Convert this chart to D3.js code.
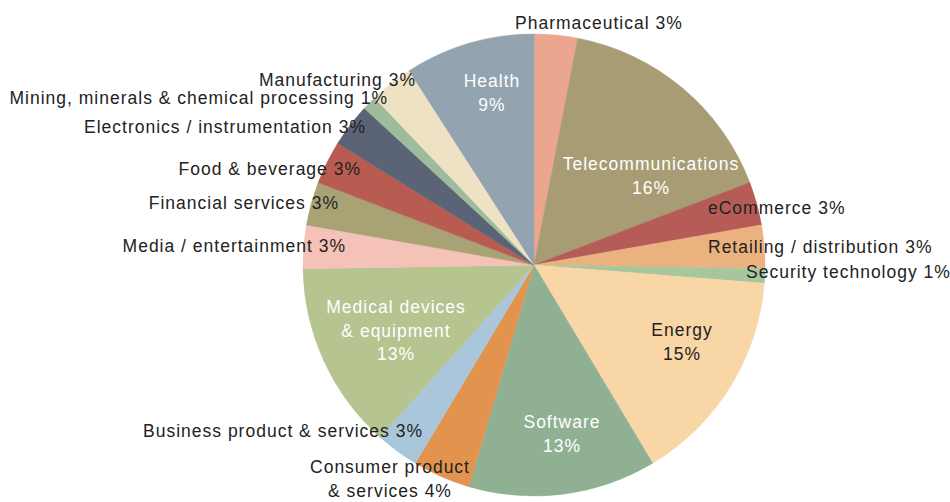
<!DOCTYPE html>
<html>
<head>
<meta charset="utf-8">
<script src="https://cdn.jsdelivr.net/npm/d3@7"></script>
<style>
  html, body { margin: 0; padding: 0; background: #fff; }
  svg { display: block; }
  text { font-family: "Liberation Sans", Arial, sans-serif; font-size: 17.5px; letter-spacing: 1px; }
</style>
</head>
<body>
<svg id="chart" width="950" height="502"></svg>
<script>
// Sector shares (%), clockwise from 12 o'clock
const sectors = [
  "Pharmaceutical", "Telecommunications", "eCommerce", "Retailing / distribution",
  "Security technology", "Energy", "Software", "Consumer product & services",
  "Business product & services", "Medical devices & equipment", "Media / entertainment",
  "Financial services", "Food & beverage", "Electronics / instrumentation",
  "Mining, minerals & chemical processing", "Manufacturing", "Health"
];
const shares = [3, 16, 3, 3, 1, 15, 13, 4, 3, 13, 3, 3, 3, 3, 1, 3, 9];
const sliceColors = [
  "#eca690", "#a89c74", "#b65c58", "#eab27e", "#a8c69c", "#f8d6a6", "#90b093",
  "#e2944e", "#a9c6da", "#b6c490", "#f4c2b6", "#a9a274", "#b85c52", "#5a6476",
  "#9ebc9c", "#efe2c4", "#93a4b0"
];

// Label text lines per slice, and how each is placed
const labelLines = [
  ["Pharmaceutical 3%"], ["Telecommunications", "16%"], ["eCommerce 3%"],
  ["Retailing / distribution 3%"], ["Security technology 1%"], ["Energy", "15%"],
  ["Software", "13%"], ["Consumer product", "& services 4%"],
  ["Business product & services 3%"], ["Medical devices", "& equipment", "13%"],
  ["Media / entertainment 3%"], ["Financial services 3%"], ["Food & beverage 3%"],
  ["Electronics / instrumentation 3%"], ["Mining, minerals & chemical processing 1%"],
  ["Manufacturing 3%"], ["Health", "9%"]
];
const labelAnchor = ["start", "middle", "start", "start", "start", "middle", "middle", "middle",
  "end", "middle", "end", "end", "end", "end", "end", "end", "middle"];
const labelFill = ["#222", "#fff", "#222", "#222", "#222", "#222", "#fff", "#222",
  "#222", "#fff", "#222", "#222", "#222", "#222", "#222", "#222", "#fff"];
const labelX = [515, 651, 708, 708, 746, 682, 562, 390, 423, 396, 346, 339, 361, 366, 388, 416, 492];
const labelY = [29, 170, 214, 253, 278, 336, 428, 473, 437, 313, 252, 209, 175, 133, 104, 86, 87];

const data = sectors.map((name, i) => ({
  name, value: shares[i], color: sliceColors[i],
  lines: labelLines[i], anchor: labelAnchor[i], fill: labelFill[i],
  lx: labelX[i], ly: labelY[i]
}));

const svg = d3.select("#chart");
const cx = 534, cy = 265, radius = 231;

const pie = d3.pie().value(d => d.value).sort(null).startAngle(0).endAngle(2 * Math.PI);
const arc = d3.arc().innerRadius(0).outerRadius(radius);

const g = svg.append("g").attr("transform", `translate(${cx},${cy})`);
g.selectAll("path")
  .data(pie(data))
  .join("path")
  .attr("d", arc)
  .attr("fill", d => d.data.color)
  .attr("stroke", d => d.data.color)
  .attr("stroke-width", 0.5);

// Labels
const lineHeight = 23.5;
const labels = svg.append("g");
data.forEach(d => {
  const t = labels.append("text")
    .attr("x", d.lx)
    .attr("y", d.ly)
    .attr("text-anchor", d.anchor)
    .attr("fill", d.fill);
  d.lines.forEach((line, j) => {
    t.append("tspan")
      .attr("x", d.lx)
      .attr("y", d.ly + j * lineHeight)
      .text(line);
  });
});
</script>
</body>
</html>
